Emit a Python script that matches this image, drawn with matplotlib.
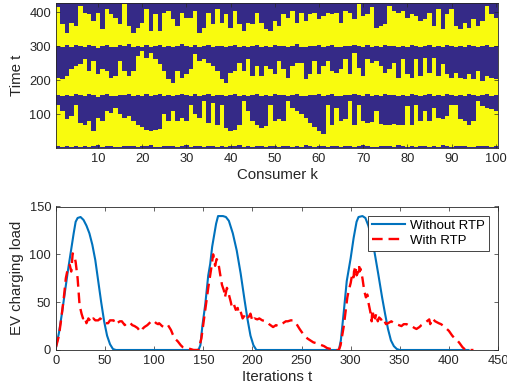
import numpy as np
import matplotlib
matplotlib.use("Agg")
import matplotlib.pyplot as plt
from matplotlib.colors import LinearSegmentedColormap

plt.rcParams['font.family'] = ['Liberation Sans', 'DejaVu Sans']

# charging schedule per consumer (start / end time of each charging window)
s1 = [6, 4, 7, 5, 8, 5, 6, 4, 7, 9, 5, 6, 8, 5, 4, 7, 6, 8, 5, 7,
      6, 9, 5, 4, 8, 6, 7, 5, 6, 9, 4, 6, 8, 5, 7, 6, 4, 8, 5, 6,
      7, 9, 5, 6, 4, 8, 6, 5, 7, 6, 5, 8, 6, 4, 7, 5, 9, 6, 4, 7,
      8, 5, 6, 7, 4, 6, 8, 5, 7, 9, 6, 4, 5, 8, 6, 7, 5, 9, 6, 4,
      7, 5, 8, 6, 5, 7, 4, 9, 6, 5, 8, 6, 7, 4, 5, 8, 6, 7, 5, 6]
e1 = [128, 110, 85, 95, 129, 75, 70, 80, 50, 90, 80, 110, 105, 120, 100, 90, 95, 80, 70, 62,
      55, 52, 55, 58, 100, 80, 110, 80, 90, 80, 129, 100, 90, 139, 75, 134, 70, 129, 60, 51,
      55, 70, 139, 110, 80, 70, 61, 65, 129, 80, 85, 80, 139, 120, 110, 100, 90, 75, 62, 50,
      41, 129, 70, 120, 80, 85, 139, 70, 129, 80, 75, 78, 110, 72, 70, 68, 72, 70, 68, 125,
      70, 129, 80, 110, 80, 120, 90, 85, 95, 129, 129, 85, 80, 70, 80, 139, 125, 120, 115, 110]
s2 = [156, 153, 158, 155, 160, 157, 154, 159, 156, 152, 157, 160, 155, 153, 158, 156, 161, 154, 157, 155,
      159, 153, 156, 160, 155, 158, 154, 157, 161, 156, 153, 159, 155, 157, 160, 154, 156, 158, 153, 157,
      160, 155, 158, 154, 156, 159, 153, 157, 155, 160, 156, 158, 154, 157, 161, 155, 153, 158, 156, 160,
      154, 157, 159, 155, 153, 158, 156, 160, 157, 154, 159, 155, 157, 153, 160, 156, 158, 154, 157, 155,
      159, 156, 153, 158, 160, 155, 157, 154, 159, 156, 153, 158, 155, 160, 157, 154, 156, 159, 155, 157]
e2 = [208, 203, 213, 233, 243, 248, 262, 228, 258, 218, 233, 228, 208, 213, 258, 228, 213, 228, 272, 287,
      267, 282, 262, 248, 228, 203, 193, 228, 208, 218, 233, 277, 258, 262, 252, 242, 228, 203, 193, 223,
      228, 252, 228, 262, 213, 242, 213, 242, 233, 218, 258, 233, 208, 242, 252, 252, 203, 218, 258, 218,
      242, 258, 228, 223, 233, 262, 218, 282, 238, 213, 262, 252, 258, 242, 223, 233, 252, 208, 262, 218,
      208, 262, 213, 267, 223, 267, 213, 248, 218, 208, 223, 208, 203, 218, 203, 228, 198, 213, 208, 203]
s3 = [300, 297, 303, 299, 305, 301, 298, 304, 300, 296, 302, 305, 299, 297, 303, 300, 306, 298, 301, 299,
      304, 297, 300, 305, 299, 302, 298, 301, 306, 300, 297, 303, 299, 301, 305, 298, 300, 302, 297, 301,
      305, 299, 302, 298, 300, 304, 297, 301, 299, 305, 300, 302, 298, 301, 306, 299, 297, 302, 300, 305,
      298, 301, 304, 299, 297, 302, 300, 305, 301, 298, 304, 299, 301, 297, 305, 300, 302, 298, 301, 299,
      304, 300, 297, 302, 305, 299, 301, 298, 304, 300, 297, 302, 299, 305, 301, 298, 300, 304, 299, 301]
e3 = [415, 365, 340, 370, 360, 420, 400, 395, 375, 400, 350, 410, 395, 385, 365, 425, 360, 340, 355, 370,
      410, 345, 395, 345, 400, 405, 380, 360, 400, 385, 385, 405, 340, 355, 400, 365, 410, 370, 395, 355,
      405, 365, 345, 370, 365, 400, 370, 350, 345, 375, 360, 395, 385, 405, 370, 400, 375, 395, 400, 380,
      390, 400, 395, 400, 370, 405, 400, 380, 425, 390, 395, 415, 355, 360, 365, 420, 405, 400, 405, 385,
      395, 390, 375, 380, 400, 360, 410, 350, 395, 410, 360, 350, 370, 355, 380, 360, 375, 420, 395, 385]
n_time = 427

# EV charging load over iterations
t_base = [0, 3, 6, 9, 12, 15, 18, 20, 22, 25, 28, 31, 34, 37, 40, 43, 46, 49, 52, 55, 58, 61,
          145, 147, 149, 152, 155, 157, 159, 161, 163, 165, 170, 173, 176, 180, 184, 188, 192, 195, 198, 201, 204,
          288, 290, 293, 296, 300, 303, 306, 308, 312, 315, 318, 321, 324, 328, 332, 335, 338, 341, 344, 347, 350, 420]
load_base = [3, 18, 38, 60, 82, 102, 122, 134, 138, 139, 136, 130, 122, 110, 94, 72, 50, 30, 15, 6, 1, 0,
             0, 5, 25, 48, 78, 90, 108, 120, 132, 140, 140, 139, 135, 122, 104, 80, 52, 32, 15, 5, 0,
             0, 10, 40, 72, 96, 117, 134, 139, 140, 138, 130, 118, 104, 80, 55, 38, 22, 10, 4, 1, 0, 0]

t_rtp = [0, 3, 5, 8, 10, 12, 14, 15.5, 17, 19, 20, 22, 24, 26, 27.5, 29, 31, 33, 34.5, 36, 38, 40, 43, 45,
         48, 50, 53, 55, 58.6, 60, 62, 65, 67, 70, 72, 75, 77.6, 80, 83, 86, 88, 90, 93, 95, 98, 100, 102,
         104, 105, 108, 110, 112, 114, 117, 119, 121, 124, 127, 129, 133, 137, 140, 145,
         148, 151.7, 155, 158, 160, 162, 163.5, 165, 167, 169, 171, 172, 174, 175, 176, 178, 179, 181, 183,
         185, 186, 188, 190, 192, 193, 195, 196.5, 198, 200, 202, 205, 207, 210, 214, 217, 221, 224, 226,
         229, 231, 234, 236, 239, 241, 243, 245, 248, 250, 253, 256, 259, 262, 265.5, 268, 270.7, 273, 276,
         280, 283, 288,
         289.7, 293, 296.6, 298, 300, 301.7, 303, 303.4, 305, 306, 307, 308.6, 309, 310, 312, 313.8, 315.5,
         317, 318, 320, 321.4, 322, 323.4, 325, 326, 327.6, 329, 331, 332.8, 334.5, 336, 338, 341.4, 344,
         346.6, 349, 351.7, 354, 357, 360, 362, 365, 367, 370, 372, 375, 377.6, 380, 381, 383, 386, 389.7,
         392, 394.8, 398, 400, 403.4, 406, 408.6, 411, 413.8, 417, 425]
load_rtp = [3, 15, 30, 55, 75, 85, 89, 82, 101, 97, 92, 75, 47, 38, 33, 35, 28, 33, 31, 29, 33, 31, 31, 33,
            30, 28, 28, 31, 31, 27, 28, 30, 30, 26, 28, 29, 26, 25, 23, 19, 22, 24, 26, 28, 31, 30, 28,
            27, 28, 25, 24, 26, 26, 21, 16, 12, 9, 5, 3, 2, 1, 0, 0,
            12, 40, 65, 85, 100, 88, 95, 93, 80, 68, 62, 55, 65, 62, 58, 50, 45, 48, 42,
            44, 38, 40, 33, 36, 38, 34, 35, 38, 30, 33, 32, 33, 31, 30, 27, 24, 26, 25,
            27, 28, 30, 30, 31, 31, 29, 27, 22, 19, 15, 12, 10, 8, 7, 6, 5, 4, 2,
            1, 0, 0,
            5, 25, 55, 62, 70, 80, 76, 82, 88, 78, 80, 88, 82, 85, 75, 62, 55,
            58, 50, 40, 30, 42, 35, 33, 38, 30, 34, 32, 28, 30, 27, 28, 30, 28,
            27, 26, 25, 27, 27, 25, 25, 23, 22, 24, 26, 28, 30, 32, 27, 33, 30, 28,
            27, 25, 22, 20, 15, 12, 10, 7, 3, 0, 0]

# build the consumer x time charging matrix
t = np.arange(1, n_time + 1)[:, None]
s1a, e1a, s2a, e2a, s3a, e3a = (np.array(a)[None, :] for a in (s1, e1, s2, e2, s3, e3))
charging = (((t >= s1a) & (t < e1a)) | ((t >= s2a) & (t < e2a)) |
            ((t >= s3a) & (t < e3a))).astype(float)

dark = '#262626'
cmap = LinearSegmentedColormap.from_list('by', ['#352A87', '#F9FB0E'])

fig = plt.figure(figsize=(5.07, 3.92), dpi=100)

ax1 = fig.add_axes([56 / 507, 1 - 148 / 392, 442 / 507, 145 / 392])
ax1.imshow(charging, origin='lower', aspect='auto', cmap=cmap,
           extent=(0.5, 100.5, 0.5, n_time + 0.5), interpolation='nearest')
ax1.set_xticks(range(10, 101, 10))
ax1.set_yticks([100, 200, 300, 400])
ax1.set_xlabel('Consumer k', fontsize=10.8, color=dark, labelpad=2)
ax1.set_ylabel('Time t', fontsize=10.8, color=dark)

ax2 = fig.add_axes([56 / 507, 1 - 350 / 392, 442 / 507, 143.5 / 392])
ax2.plot(t_base, load_base, color='#0072BD', lw=1.5, label='Without RTP')
ax2.plot(t_rtp, load_rtp, color='#FF0000', lw=1.7, dashes=(4.5, 2.5), label='With RTP')
ax2.set_xlim(0, 450)
ax2.set_ylim(0, 150)
ax2.set_xticks(range(0, 451, 50))
ax2.set_yticks([0, 50, 100, 150])
ax2.set_xlabel('Iterations t', fontsize=10.8, color=dark, labelpad=2)
ax2.set_ylabel('EV charging load', fontsize=10.8, color=dark)
leg = ax2.legend(loc='upper right', fontsize=9.5, fancybox=False, framealpha=1,
                 edgecolor=dark, borderaxespad=0.7, handlelength=2.5,
                 borderpad=0.3, labelspacing=0.2, handletextpad=0.4)
leg.get_frame().set_linewidth(0.6)

for ax in (ax1, ax2):
    ax.tick_params(direction='in', top=True, right=True, length=3, width=0.5,
                   color=dark, labelcolor=dark, labelsize=9.3)
    for sp in ax.spines.values():
        sp.set_linewidth(0.6)
        sp.set_color(dark)

fig.savefig('out.png', dpi=100)
